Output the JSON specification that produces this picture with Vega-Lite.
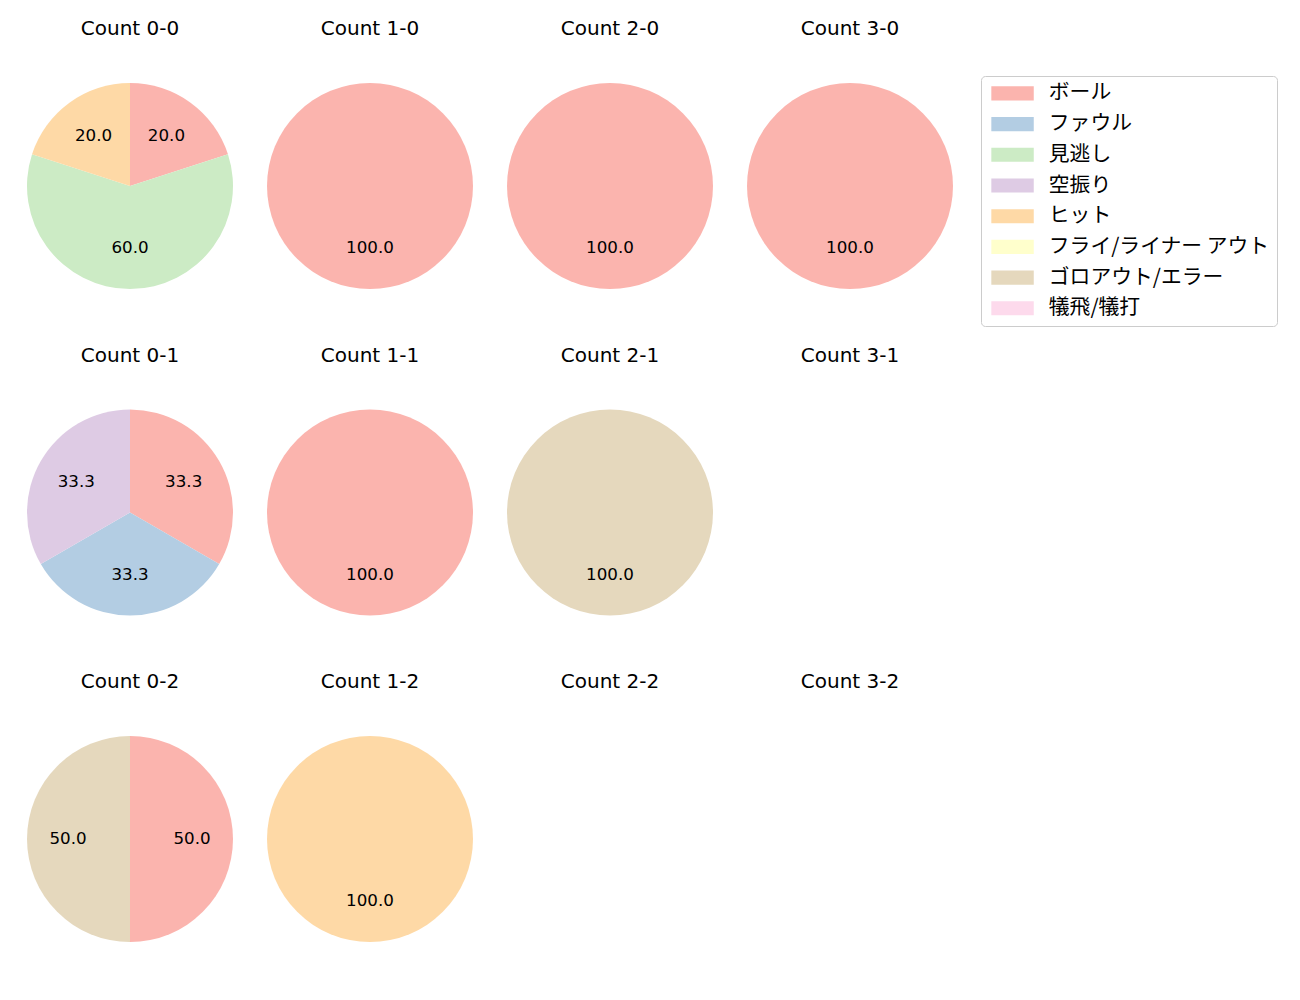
{
  "$schema": "https://vega.github.io/schema/vega-lite/v6.json",
  "padding": {"left": 27, "top": 19, "right": 10, "bottom": 10},
  "background": "white",
  "datasets": {
    "d": [
      {"c": "Count 0-0", "k": 0, "result": "ボール", "pct": 20},
      {"c": "Count 0-0", "k": 2, "result": "見逃し", "pct": 60},
      {"c": "Count 0-0", "k": 4, "result": "ヒット", "pct": 20},
      {"c": "Count 1-0", "k": 0, "result": "ボール", "pct": 100},
      {"c": "Count 2-0", "k": 0, "result": "ボール", "pct": 100},
      {"c": "Count 3-0", "k": 0, "result": "ボール", "pct": 100},
      {"c": "Count 0-1", "k": 0, "result": "ボール", "pct": 33.333},
      {"c": "Count 0-1", "k": 1, "result": "ファウル", "pct": 33.333},
      {"c": "Count 0-1", "k": 3, "result": "空振り", "pct": 33.333},
      {"c": "Count 1-1", "k": 0, "result": "ボール", "pct": 100},
      {"c": "Count 2-1", "k": 6, "result": "ゴロアウト/エラー", "pct": 100},
      {"c": "Count 0-2", "k": 0, "result": "ボール", "pct": 50},
      {"c": "Count 0-2", "k": 6, "result": "ゴロアウト/エラー", "pct": 50},
      {"c": "Count 1-2", "k": 4, "result": "ヒット", "pct": 100}
    ]
  },
  "config": {
    "font": "DejaVu Sans",
    "view": {"stroke": null},
    "title": {"fontSize": 20, "fontWeight": "normal", "color": "#000000", "offset": 44, "font": "DejaVu Sans"},
    "text": {"font": "DejaVu Sans", "fontSize": 16.7},
    "legend": {
      "orient": "none",
      "legendX": 954,
      "legendY": -7,
      "padding": 7,
      "strokeColor": "#cccccc",
      "fillColor": "#ffffff",
      "cornerRadius": 4,
      "labelFontSize": 20.8,
      "labelFont": "Noto Sans CJK JP",
      "labelColor": "#000000",
      "symbolType": "M-1,-1h6v2h-6z",
      "symbolSize": 200,
      "symbolStrokeWidth": 0,
      "symbolOpacity": 1,
      "labelOffset": 40,
      "rowPadding": 8.7,
      "labelLimit": 400
    }
  },
  "spacing": {"column": 34, "row": 56.5},
  "columns": 4,
  "resolve": {"scale": {"theta": "independent"}},
  "concat": [
    {"title": "Count 0-0", "width": 206, "height": 206, "data": {"name": "d"}, "transform": [{"filter": "datum.c == 'Count 0-0'"}],
     "encoding": {"theta": {"field": "pct", "type": "quantitative", "stack": true}, "order": {"field": "k", "type": "quantitative"}, "color": {"field": "result", "type": "nominal", "title": null, "scale": {"domain": ["ボール", "ファウル", "見逃し", "空振り", "ヒット", "フライ/ライナー アウト", "ゴロアウト/エラー", "犠飛/犠打"], "range": ["#fbb4ae", "#b3cde3", "#ccebc5", "#decbe4", "#fed9a6", "#ffffcc", "#e5d8bd", "#fddaec"]}}},
     "layer": [{"mark": {"type": "arc", "outerRadius": 103}}, {"mark": {"type": "text", "radius": 62, "color": "#000000"}, "encoding": {"text": {"field": "pct", "type": "quantitative", "format": ".1f"}, "color": {"value": "#000000"}}}]},
    {"title": "Count 1-0", "width": 206, "height": 206, "data": {"name": "d"}, "transform": [{"filter": "datum.c == 'Count 1-0'"}],
     "encoding": {"theta": {"field": "pct", "type": "quantitative", "stack": true}, "order": {"field": "k", "type": "quantitative"}, "color": {"field": "result", "type": "nominal", "title": null}},
     "layer": [{"mark": {"type": "arc", "outerRadius": 103}}, {"mark": {"type": "text", "radius": 62, "color": "#000000"}, "encoding": {"text": {"field": "pct", "type": "quantitative", "format": ".1f"}, "color": {"value": "#000000"}}}]},
    {"title": "Count 2-0", "width": 206, "height": 206, "data": {"name": "d"}, "transform": [{"filter": "datum.c == 'Count 2-0'"}],
     "encoding": {"theta": {"field": "pct", "type": "quantitative", "stack": true}, "order": {"field": "k", "type": "quantitative"}, "color": {"field": "result", "type": "nominal", "title": null}},
     "layer": [{"mark": {"type": "arc", "outerRadius": 103}}, {"mark": {"type": "text", "radius": 62, "color": "#000000"}, "encoding": {"text": {"field": "pct", "type": "quantitative", "format": ".1f"}, "color": {"value": "#000000"}}}]},
    {"title": "Count 3-0", "width": 206, "height": 206, "data": {"name": "d"}, "transform": [{"filter": "datum.c == 'Count 3-0'"}],
     "encoding": {"theta": {"field": "pct", "type": "quantitative", "stack": true}, "order": {"field": "k", "type": "quantitative"}, "color": {"field": "result", "type": "nominal", "title": null}},
     "layer": [{"mark": {"type": "arc", "outerRadius": 103}}, {"mark": {"type": "text", "radius": 62, "color": "#000000"}, "encoding": {"text": {"field": "pct", "type": "quantitative", "format": ".1f"}, "color": {"value": "#000000"}}}]},
    {"title": "Count 0-1", "width": 206, "height": 206, "data": {"name": "d"}, "transform": [{"filter": "datum.c == 'Count 0-1'"}],
     "encoding": {"theta": {"field": "pct", "type": "quantitative", "stack": true}, "order": {"field": "k", "type": "quantitative"}, "color": {"field": "result", "type": "nominal", "title": null}},
     "layer": [{"mark": {"type": "arc", "outerRadius": 103}}, {"mark": {"type": "text", "radius": 62, "color": "#000000"}, "encoding": {"text": {"field": "pct", "type": "quantitative", "format": ".1f"}, "color": {"value": "#000000"}}}]},
    {"title": "Count 1-1", "width": 206, "height": 206, "data": {"name": "d"}, "transform": [{"filter": "datum.c == 'Count 1-1'"}],
     "encoding": {"theta": {"field": "pct", "type": "quantitative", "stack": true}, "order": {"field": "k", "type": "quantitative"}, "color": {"field": "result", "type": "nominal", "title": null}},
     "layer": [{"mark": {"type": "arc", "outerRadius": 103}}, {"mark": {"type": "text", "radius": 62, "color": "#000000"}, "encoding": {"text": {"field": "pct", "type": "quantitative", "format": ".1f"}, "color": {"value": "#000000"}}}]},
    {"title": "Count 2-1", "width": 206, "height": 206, "data": {"name": "d"}, "transform": [{"filter": "datum.c == 'Count 2-1'"}],
     "encoding": {"theta": {"field": "pct", "type": "quantitative", "stack": true}, "order": {"field": "k", "type": "quantitative"}, "color": {"field": "result", "type": "nominal", "title": null}},
     "layer": [{"mark": {"type": "arc", "outerRadius": 103}}, {"mark": {"type": "text", "radius": 62, "color": "#000000"}, "encoding": {"text": {"field": "pct", "type": "quantitative", "format": ".1f"}, "color": {"value": "#000000"}}}]},
    {"title": "Count 3-1", "width": 206, "height": 206, "data": {"name": "d"}, "transform": [{"filter": "datum.c == 'Count 3-1'"}],
     "encoding": {"theta": {"field": "pct", "type": "quantitative", "stack": true}, "order": {"field": "k", "type": "quantitative"}, "color": {"field": "result", "type": "nominal", "title": null}},
     "layer": [{"mark": {"type": "arc", "outerRadius": 103}}, {"mark": {"type": "text", "radius": 62, "color": "#000000"}, "encoding": {"text": {"field": "pct", "type": "quantitative", "format": ".1f"}, "color": {"value": "#000000"}}}]},
    {"title": "Count 0-2", "width": 206, "height": 206, "data": {"name": "d"}, "transform": [{"filter": "datum.c == 'Count 0-2'"}],
     "encoding": {"theta": {"field": "pct", "type": "quantitative", "stack": true}, "order": {"field": "k", "type": "quantitative"}, "color": {"field": "result", "type": "nominal", "title": null}},
     "layer": [{"mark": {"type": "arc", "outerRadius": 103}}, {"mark": {"type": "text", "radius": 62, "color": "#000000"}, "encoding": {"text": {"field": "pct", "type": "quantitative", "format": ".1f"}, "color": {"value": "#000000"}}}]},
    {"title": "Count 1-2", "width": 206, "height": 206, "data": {"name": "d"}, "transform": [{"filter": "datum.c == 'Count 1-2'"}],
     "encoding": {"theta": {"field": "pct", "type": "quantitative", "stack": true}, "order": {"field": "k", "type": "quantitative"}, "color": {"field": "result", "type": "nominal", "title": null}},
     "layer": [{"mark": {"type": "arc", "outerRadius": 103}}, {"mark": {"type": "text", "radius": 62, "color": "#000000"}, "encoding": {"text": {"field": "pct", "type": "quantitative", "format": ".1f"}, "color": {"value": "#000000"}}}]},
    {"title": "Count 2-2", "width": 206, "height": 206, "data": {"name": "d"}, "transform": [{"filter": "datum.c == 'Count 2-2'"}],
     "encoding": {"theta": {"field": "pct", "type": "quantitative", "stack": true}, "order": {"field": "k", "type": "quantitative"}, "color": {"field": "result", "type": "nominal", "title": null}},
     "layer": [{"mark": {"type": "arc", "outerRadius": 103}}, {"mark": {"type": "text", "radius": 62, "color": "#000000"}, "encoding": {"text": {"field": "pct", "type": "quantitative", "format": ".1f"}, "color": {"value": "#000000"}}}]},
    {"title": "Count 3-2", "width": 206, "height": 206, "data": {"name": "d"}, "transform": [{"filter": "datum.c == 'Count 3-2'"}],
     "encoding": {"theta": {"field": "pct", "type": "quantitative", "stack": true}, "order": {"field": "k", "type": "quantitative"}, "color": {"field": "result", "type": "nominal", "title": null}},
     "layer": [{"mark": {"type": "arc", "outerRadius": 103}}, {"mark": {"type": "text", "radius": 62, "color": "#000000"}, "encoding": {"text": {"field": "pct", "type": "quantitative", "format": ".1f"}, "color": {"value": "#000000"}}}]}
  ]
}
